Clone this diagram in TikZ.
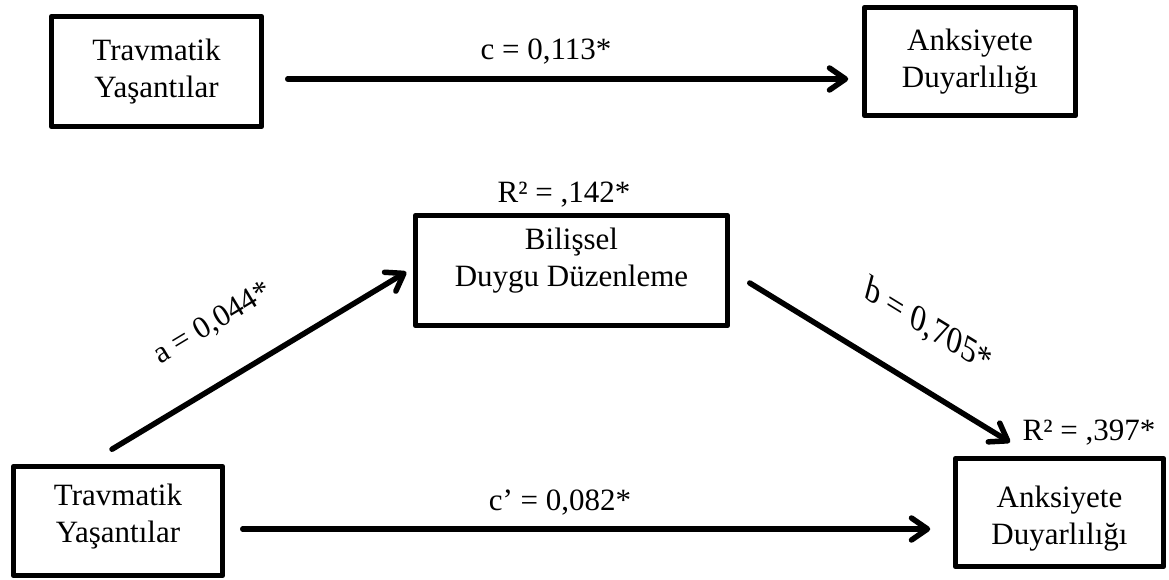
\documentclass[tikz,border=0pt]{standalone}
\usepackage{fontspec}
\setmainfont{Liberation Serif}
\usetikzlibrary{arrows.meta}
\begin{document}
\begin{tikzpicture}[x=1pt,y=-1pt,
  box/.style={draw, line width=5.5pt, line join=round, align=center, inner sep=0pt, font=\fontsize{31}{37}\selectfont},
  lbl/.style={font=\fontsize{31}{37}\selectfont, inner sep=0pt},
  arr/.style={line width=5.5pt, line cap=round, -{Straight Barb[length=16pt,width=22pt,line cap=round,line join=round]}}]
\useasboundingbox (0,0) rectangle (1169,580);
% boxes
\node[box, minimum width=210pt, minimum height=110pt] (tl) at (156.5,71.5) {Travmatik\\Yaşantılar};
\node[box, minimum width=211pt, minimum height=108pt] (tr) at (970,61.5) {Anksiyete\\Duyarlılığı};
\node[box, minimum width=312pt, minimum height=110pt, text height=58pt, text depth=26pt] (m) at (571.5,270.5) {Bilişsel\\Duygu Düzenleme};
\node[box, minimum width=209pt, minimum height=109pt, text height=58pt, text depth=15pt] (bl) at (118,521) {Travmatik\\Yaşantılar};
\node[box, minimum width=208pt, minimum height=108pt, text height=70pt, text depth=7pt] (br) at (1059.5,512.5) {Anksiyete\\Duyarlılığı};
% connectors
\draw[arr] ([xshift=23.5pt,yshift=-7.5pt]tl.east) -- ([xshift=-13.5pt,yshift=-17.5pt]tr.west);
\draw[arr] ([xshift=17.5pt,yshift=-8pt]bl.east) -- ([xshift=-22.5pt,yshift=-16.5pt]br.west);
\draw[arr] ([xshift=-6pt,yshift=14.5pt]bl.north) -- ([xshift=-6.5pt,yshift=-1.5pt]m.west)
  node[lbl, sloped, above=40pt, pos=0.44] (la) {a = 0,044*};
\draw[arr] ([xshift=19.5pt,yshift=-12.5pt]m.east) -- ([xshift=-49.5pt,yshift=13.5pt]br.north);
% labels
\node[lbl, font=\fontsize{34}{40}\selectfont, rotate=-31.6, xslant=-0.3] (lb) at (928,327) {b = 0,705*};
\node[lbl, anchor=base] (lc) at (546,60) {c = 0,113*};
\node[lbl, anchor=base] (lcp) at (560,510) {c’ = 0,082*};
\node[lbl, anchor=base] (r1) at (564,202) {R² = ,142*};
\node[lbl, anchor=base] (r2) at (1089,440) {R² = ,397*};
\end{tikzpicture}
\end{document}
